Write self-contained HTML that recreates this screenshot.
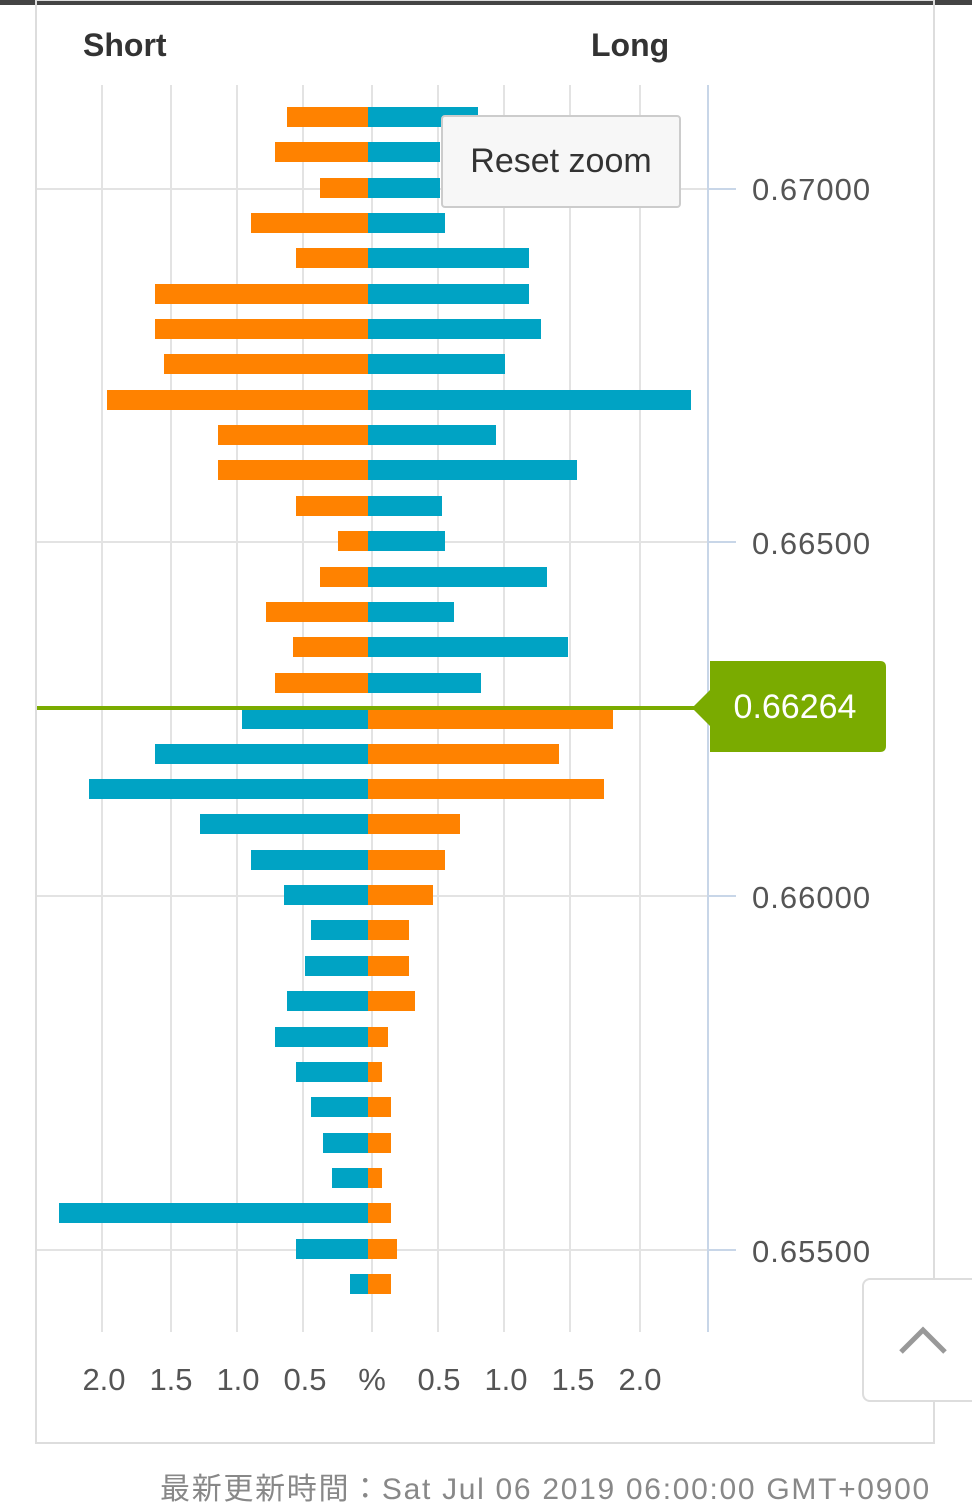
<!DOCTYPE html>
<html><head><meta charset="utf-8"><style>
body{margin:0;width:972px;height:1496px;background:#fff;overflow:hidden;position:relative;font-family:"Liberation Sans","Noto Sans CJK JP",sans-serif}
</style></head><body>
<div style="position:absolute;left:0;top:0;width:972px;height:5px;background:#444"></div>
<svg width="972" height="1496" style="position:absolute;left:0;top:0">
<rect x="36" y="0" width="898" height="1443" fill="none" stroke="#ddd" stroke-width="2"/>
<g stroke="#e3e3e3" stroke-width="2">
<line x1="102" y1="85" x2="102" y2="1332"/><line x1="171" y1="85" x2="171" y2="1332"/><line x1="237" y1="85" x2="237" y2="1332"/><line x1="303" y1="85" x2="303" y2="1332"/><line x1="372" y1="85" x2="372" y2="1332"/><line x1="438" y1="85" x2="438" y2="1332"/><line x1="504" y1="85" x2="504" y2="1332"/><line x1="570" y1="85" x2="570" y2="1332"/><line x1="640" y1="85" x2="640" y2="1332"/>
<line x1="37" y1="189" x2="708" y2="189"/><line x1="37" y1="542" x2="708" y2="542"/><line x1="37" y1="896" x2="708" y2="896"/><line x1="37" y1="1250" x2="708" y2="1250"/>
</g>
<g stroke="#c8d6e8" stroke-width="2"><line x1="708" y1="85" x2="708" y2="1332"/>
<line x1="708" y1="189" x2="736" y2="189"/><line x1="708" y1="542" x2="736" y2="542"/><line x1="708" y1="896" x2="736" y2="896"/><line x1="708" y1="1250" x2="736" y2="1250"/></g>
<g id="bars"></g>
<line x1="37" y1="708" x2="708" y2="708" stroke="#7aab00" stroke-width="4"/>
<path d="M692 708 L710 690 L710 661 L880 661 Q886 661 886 667 L886 746 Q886 752 880 752 L710 752 L710 726 Z" fill="#7aab00"/>
<text x="795" y="718" font-size="34" fill="#fff" text-anchor="middle">0.66264</text>
<g font-size="31" fill="#555" letter-spacing="1"><text x="752" y="200">0.67000</text><text x="752" y="554">0.66500</text><text x="752" y="908">0.66000</text><text x="752" y="1262">0.65500</text></g>
<g font-size="31" fill="#555" text-anchor="middle"><text x="104" y="1390">2.0</text><text x="171" y="1390">1.5</text><text x="238" y="1390">1.0</text><text x="305" y="1390">0.5</text><text x="372" y="1390">%</text><text x="439" y="1390">0.5</text><text x="506" y="1390">1.0</text><text x="573" y="1390">1.5</text><text x="640" y="1390">2.0</text></g>
<g font-size="32" font-weight="bold" fill="#333"><text x="83" y="56">Short</text><text x="591" y="56">Long</text></g>
</svg>
<div style="position:absolute;left:441px;top:115px;width:236px;height:89px;border:2px solid #ccc;border-radius:4px;background:#f7f7f7;font-size:34px;color:#333;line-height:89px;text-align:center">Reset zoom</div>
<div style="position:absolute;left:862px;top:1278px;width:120px;height:120px;border:2px solid #ddd;border-radius:8px;background:#fff"></div>
<svg width="60" height="40" style="position:absolute;left:893px;top:1320px"><polyline points="8,32 30,10 52,32" fill="none" stroke="#999" stroke-width="5"/></svg>
<div style="position:absolute;left:160px;top:1464px;font-size:30px;color:#888;white-space:nowrap;letter-spacing:1.7px">最新更新時間：Sat Jul 06 2019 06:00:00 GMT+0900</div>
<script>
var d=[[117,287,478],[152,275,440],[188,320,440],[223,251,445],[258,296,529],[294,155,529],[329,155,541],[364,164,505],[400,107,691],[435,218,496],[470,218,577],[506,296,442],[541,338,445],[577,320,547],[612,266,454],[647,293,568],[683,275,481],[719,242,613],[754,155,559],[789,89,604],[824,200,460],[860,251,445],[895,284,433],[930,311,409],[966,305,409],[1001,287,415],[1037,275,388],[1072,296,382],[1107,311,391],[1143,323,391],[1178,332,382],[1213,59,391],[1249,296,397],[1284,350,391]];
var O="#ff8200",T="#00a3c4",s="";
d.forEach(function(r,i){var top=i<17;s+='<rect x="'+r[1]+'" y="'+(r[0]-10)+'" width="'+(368-r[1])+'" height="20" fill="'+(top?O:T)+'"/>';s+='<rect x="368" y="'+(r[0]-10)+'" width="'+(r[2]-368)+'" height="20" fill="'+(top?T:O)+'"/>';});
document.getElementById("bars").innerHTML=s;
</script>
</body></html>
